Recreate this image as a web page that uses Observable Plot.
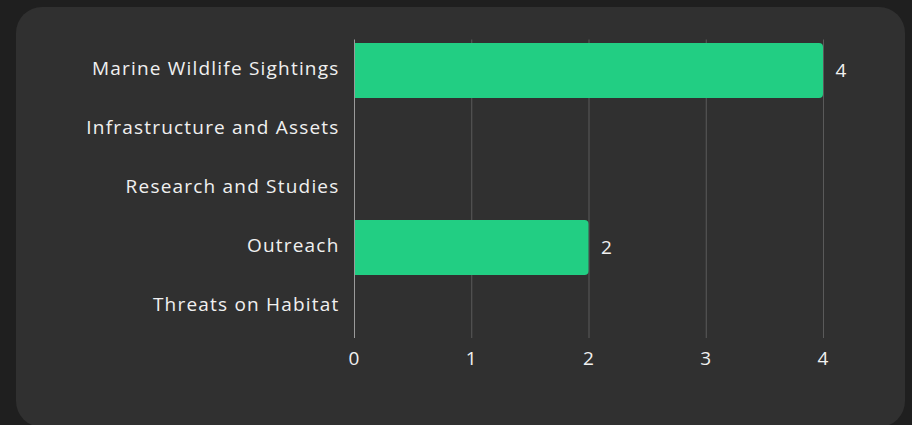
<!DOCTYPE html>
<html>
<head>
<meta charset="utf-8">
<script src="https://cdn.jsdelivr.net/npm/d3@7"></script>
<script src="https://cdn.jsdelivr.net/npm/@observablehq/plot@0.6"></script>
<style>
  html, body { margin: 0; padding: 0; background: #1f1f1f; }
  #wrap { position: relative; width: 912px; height: 425px; overflow: hidden; }
  #card { position: absolute; left: 16px; top: 7px; width: 889px; height: 420px; background: #303030; border-radius: 26px; }
  #chart { position: absolute; left: 0; top: 0; }
  #chart svg text { font-family: "Open Sans", sans-serif; font-size: 19px; letter-spacing: 1.2px; }
</style>
</head>
<body>
<div id="wrap"><div id="card"></div><div id="chart"></div></div>
<script>
const categories = ["Marine Wildlife Sightings", "Infrastructure and Assets", "Research and Studies", "Outreach", "Threats on Habitat"];
const values = [4, 0, 0, 2, 0];
const xTicks = [0, 1, 2, 3, 4];

const data = categories.map((c, i) => ({category: c, value: values[i]}));
const nonzero = data.filter(d => d.value > 0);

const plot = Plot.plot({
  width: 912,
  height: 425,
  marginLeft: 354,
  marginRight: 89,
  marginTop: 39.5,
  marginBottom: 87,
  style: {background: "transparent", color: "#f0f0f0"},
  x: {domain: [0, 4], label: null, ticks: xTicks},
  y: {domain: categories, label: null, paddingInner: 0.07, paddingOuter: 0.035},
  marks: [
    Plot.ruleX(xTicks.filter(t => t > 0), {stroke: "#5a5a5a", strokeWidth: 1}),
    Plot.axisX({ticks: xTicks, tickFormat: d3.format("d"), tickSize: 0, tickPadding: 13, fill: "#f0f0f0", label: null}),
    Plot.axisY({tickSize: 0, tickPadding: 15, dy: -2, fill: "#f0f0f0", label: null}),
    Plot.barX(nonzero, {y: "category", x1: 0, x2: d => d.value / 2, fill: "#22ce83"}),
    Plot.barX(nonzero, {y: "category", x1: 0, x2: "value", fill: "#22ce83", rx: 4}),
    Plot.ruleX([0], {stroke: "#9a9a9a", strokeWidth: 1}),
    Plot.text(nonzero, {y: "category", x: "value", text: d => String(d.value), textAnchor: "start", dx: 12, dy: 0, fill: "#f0f0f0"})
  ]
});
document.getElementById("chart").appendChild(plot);
</script>
</body>
</html>
